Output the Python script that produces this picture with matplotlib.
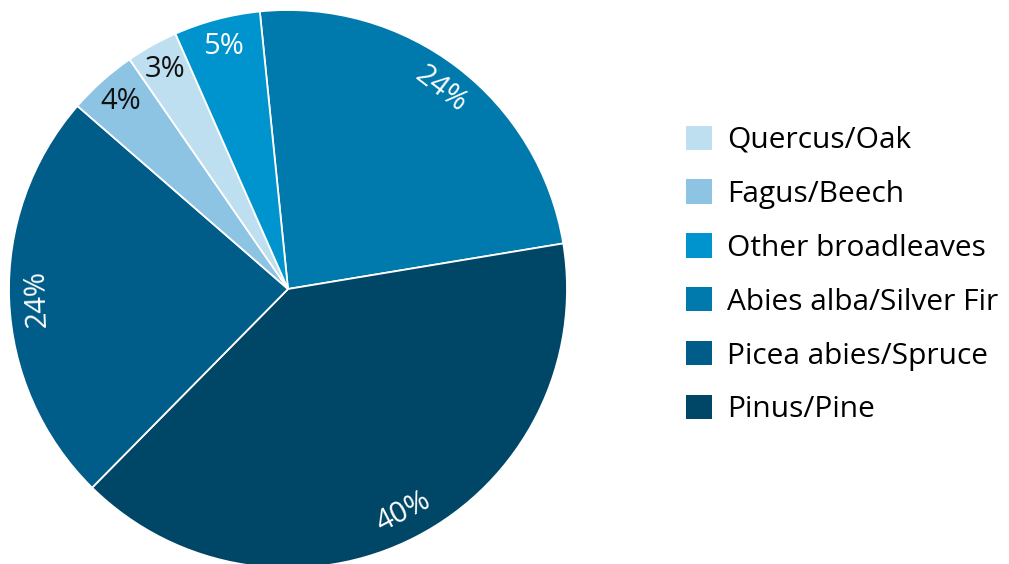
import numpy as np
import matplotlib
matplotlib.use("Agg")
import matplotlib.pyplot as plt
from matplotlib.patches import Patch

plt.rcParams['font.family'] = ['Open Sans', 'DejaVu Sans']

# slices in drawing order (clockwise from the top)
species = ['Abies alba/Silver Fir', 'Pinus/Pine', 'Picea abies/Spruce',
           'Fagus/Beech', 'Quercus/Oak', 'Other broadleaves']
shares = [24, 40, 24, 4, 3, 5]
colors = ['#0079ad', '#004666', '#005c88', '#8dc3e3', '#bedfef', '#0094cf']
text_colors = ['white', 'white', 'white', '#111111', '#111111', 'white']
legend_order = ['Quercus/Oak', 'Fagus/Beech', 'Other broadleaves',
                'Abies alba/Silver Fir', 'Picea abies/Spruce', 'Pinus/Pine']

fig = plt.figure(figsize=(10.09, 5.64), dpi=100)
ax = fig.add_axes([(288 - 279) / 1009, (275 - 279) / 564, 558 / 1009, 558 / 564])

start = 95.8
wedges, _ = ax.pie(shares, colors=colors, startangle=start, counterclock=False,
                   radius=1, wedgeprops=dict(edgecolor='white', linewidth=1.3))
ax.set_xlim(-1, 1)
ax.set_ylim(-1, 1)
ax.set_aspect('auto')
ax.axis('off')

# percentage labels along the rim, big slices rotated with the arc
for w, val, tc in zip(wedges, shares, text_colors):
    mid = (w.theta1 + w.theta2) / 2
    r = 0.9
    x, y = r * np.cos(np.radians(mid)), r * np.sin(np.radians(mid))
    if val >= 10:
        rot = ((mid - 90 + 180) % 360) - 180
        if rot < -90:
            rot += 180
    else:
        rot = 0
    ax.text(x, y, f'{val}%', color=tc, fontsize=21, ha='center', va='center',
            rotation=rot, rotation_mode='anchor')

handles = [Patch(facecolor=colors[species.index(s)], edgecolor='none') for s in legend_order]
fig.legend(handles, legend_order, loc='center left', bbox_to_anchor=(686 / 1009, 1 - 275 / 564),
           frameon=False, fontsize=21.5, handlelength=0.87, handleheight=0.87,
           handletextpad=0.5, labelspacing=0.82, borderpad=0, borderaxespad=0)

fig.savefig('out.png', dpi=100)
